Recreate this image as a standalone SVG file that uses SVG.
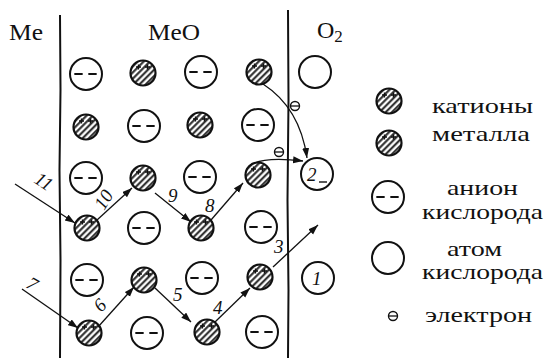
<svg xmlns="http://www.w3.org/2000/svg" xmlns:xlink="http://www.w3.org/1999/xlink" width="550" height="358" viewBox="0 0 550 358">
  <style>
    .bound { fill: none; stroke: #111; stroke-width: 2; }
    .ring { fill: #fff; stroke: #111; stroke-width: 2; }
    .dash { stroke: #111; stroke-width: 1.8; stroke-linecap: round; }
    .conn { fill: none; stroke: #111; stroke-width: 1.3; }
    .head { marker-end: url(#arrow); }
    .phase { font-family: "Liberation Serif", "DejaVu Serif", serif; font-size: 24px; fill: #111; }
    .legend { font-family: "Liberation Serif", "DejaVu Serif", serif; font-size: 22px; fill: #111; }
    .num { font-family: "Liberation Serif", "DejaVu Serif", serif; font-style: italic; font-size: 19px; fill: #111; }
  </style>
  <defs>
    <pattern id="hatch" patternUnits="userSpaceOnUse" width="4.4" height="4.4" patternTransform="rotate(-45)">
      <rect width="4.4" height="4.4" fill="#fff"/>
      <line x1="0" y1="1.2" x2="4.4" y2="1.2" stroke="#222" stroke-width="2"/>
    </pattern>
    <marker id="arrow" markerUnits="userSpaceOnUse" markerWidth="11" markerHeight="8" refX="10" refY="3.5" orient="auto">
      <path d="M0,0 L10,3.5 L0,7 Z" fill="#111"/>
    </marker>
    <!-- metal cation: hatched disc with two small plus signs -->
    <g id="cation">
      <circle r="12.5" fill="url(#hatch)" stroke="#111" stroke-width="2.2"/>
      <path d="M-7,-6 h5 M-4.5,-8.5 v5 M2,-6 h5 M4.5,-8.5 v5" stroke="#111" stroke-width="1.4"/>
    </g>
    <!-- oxygen anion: ring with two short dashes -->
    <g id="anion">
      <circle r="16" class="ring"/>
      <line x1="-11" y1="0" x2="-4" y2="0" class="dash"/>
      <line x1="3" y1="0" x2="10" y2="0" class="dash"/>
    </g>
    <!-- oxygen atom: empty ring -->
    <g id="atom">
      <circle r="16" class="ring"/>
    </g>
    <!-- electron -->
    <g id="electron">
      <circle r="4.5" fill="#fff" stroke="#111" stroke-width="1.4"/>
      <line x1="-4.5" y1="0" x2="4.5" y2="0" stroke="#111" stroke-width="1.3"/>
    </g>
  </defs>

  <rect width="550" height="358" fill="#fff"/>

  <!-- phase boundaries -->
  <g id="boundaries">
    <path class="bound" d="M60,15 L60.5,90 L59.5,170 L60.5,260 L60,358"/>
    <path class="bound" d="M288,10 L288.5,100 L287.5,200 L288.5,290 L288,358"/>
  </g>

  <!-- phase labels -->
  <g id="phase-labels">
    <text class="phase" x="9" y="40" textLength="34" lengthAdjust="spacingAndGlyphs">Me</text>
    <text class="phase" x="148" y="40" textLength="52" lengthAdjust="spacingAndGlyphs">MeO</text>
    <text class="phase" x="317" y="38">O<tspan font-size="17" dy="4">2</tspan></text>
  </g>

  <!-- oxide lattice -->
  <g id="lattice">
    <g id="r1c1"><use href="#anion" x="86" y="74"/></g>
    <g id="r1c2"><use href="#cation" x="143" y="73"/></g>
    <g id="r1c3"><use href="#anion" x="201" y="72"/></g>
    <g id="r1c4"><use href="#cation" x="259" y="72"/></g>

    <g id="r2c1"><use href="#cation" x="86" y="127"/></g>
    <g id="r2c2"><use href="#anion" x="144" y="126"/></g>
    <g id="r2c3"><use href="#cation" x="200" y="125"/></g>
    <g id="r2c4"><use href="#anion" x="258" y="125"/></g>

    <g id="r3c1"><use href="#anion" x="86" y="178"/></g>
    <g id="r3c2"><use href="#cation" x="143" y="178"/></g>
    <g id="r3c3"><use href="#anion" x="200" y="177"/></g>
    <g id="r3c4"><use href="#cation" x="258" y="175"/></g>

    <g id="r4c1"><use href="#cation" x="87" y="228"/></g>
    <g id="r4c2"><use href="#anion" x="144" y="228"/></g>
    <g id="r4c3"><use href="#cation" x="201" y="228"/></g>
    <g id="r4c4"><use href="#anion" x="261" y="227"/></g>

    <g id="r5c1"><use href="#anion" x="87" y="280"/></g>
    <g id="r5c2"><use href="#cation" x="144" y="280"/></g>
    <g id="r5c3"><use href="#anion" x="202" y="278"/></g>
    <g id="r5c4"><use href="#cation" x="260" y="277"/></g>

    <g id="r6c1"><use href="#cation" x="89" y="333"/></g>
    <g id="r6c2"><use href="#anion" x="147" y="333"/></g>
    <g id="r6c3"><use href="#cation" x="207" y="332"/></g>
    <g id="r6c4"><use href="#anion" x="262" y="332"/></g>
  </g>

  <!-- gas side -->
  <g id="oxygen-gas">
    <g id="o-top"><use href="#atom" x="315" y="72"/></g>
    <g id="o-2">
      <use href="#atom" x="317" y="174"/>
      <text class="num" x="307" y="181">2</text>
      <line x1="319" y1="182" x2="327" y2="182" stroke="#111" stroke-width="1.4"/>
    </g>
    <g id="o-1">
      <use href="#atom" x="318" y="278"/>
      <text class="num" x="312" y="285">1</text>
    </g>
  </g>

  <!-- migration steps and electron transfer -->
  <g id="connectors">
    <line class="conn head" x1="15" y1="184" x2="75" y2="223"/>
    <line class="conn head" x1="97" y1="220" x2="132" y2="188"/>
    <line class="conn head" x1="155" y1="193" x2="191" y2="222"/>
    <line class="conn head" x1="211" y1="220" x2="243" y2="183"/>
    <line class="conn head" x1="22" y1="289" x2="78" y2="328"/>
    <line class="conn head" x1="98" y1="327" x2="134" y2="287"/>
    <line class="conn head" x1="155" y1="288" x2="191" y2="322"/>
    <line class="conn head" x1="215" y1="322" x2="250" y2="288"/>
    <line class="conn head" x1="273" y1="267" x2="318" y2="225"/>
    <path class="conn head" d="M263,84 Q300,108 307,158"/>
    <path class="conn head" d="M249,166 Q262,156 303,161"/>
    <use href="#electron" x="295" y="106"/>
    <use href="#electron" x="279" y="152"/>
  </g>

  <!-- step numbers -->
  <g id="step-labels">
    <text class="num" transform="translate(33,182) rotate(33)">11</text>
    <text class="num" transform="translate(104,211) rotate(-58)">10</text>
    <text class="num" x="168" y="202">9</text>
    <text class="num" x="205" y="212">8</text>
    <text class="num" transform="translate(25,287) rotate(30)">7</text>
    <text class="num" transform="translate(101,313) rotate(-45)">6</text>
    <text class="num" x="173" y="301">5</text>
    <text class="num" x="213" y="314">4</text>
    <text class="num" x="274" y="253">3</text>
  </g>

  <!-- legend -->
  <g id="legend">
    <g id="legend-cation">
      <use href="#cation" x="389" y="101"/>
      <use href="#cation" x="389" y="143"/>
      <text class="legend" x="432" y="113" textLength="101" lengthAdjust="spacingAndGlyphs">катионы</text>
      <text class="legend" x="432" y="141" textLength="98" lengthAdjust="spacingAndGlyphs">металла</text>
    </g>
    <g id="legend-anion">
      <use href="#anion" x="388" y="197"/>
      <text class="legend" x="447" y="195" textLength="71" lengthAdjust="spacingAndGlyphs">анион</text>
      <text class="legend" x="422" y="219" textLength="121" lengthAdjust="spacingAndGlyphs">кислорода</text>
    </g>
    <g id="legend-atom">
      <use href="#atom" x="388" y="258"/>
      <text class="legend" x="447" y="256" textLength="55" lengthAdjust="spacingAndGlyphs">атом</text>
      <text class="legend" x="422" y="279" textLength="121" lengthAdjust="spacingAndGlyphs">кислорода</text>
    </g>
    <g id="legend-electron">
      <use href="#electron" x="393" y="316"/>
      <text class="legend" x="425" y="322" textLength="107" lengthAdjust="spacingAndGlyphs">электрон</text>
    </g>
  </g>
</svg>
